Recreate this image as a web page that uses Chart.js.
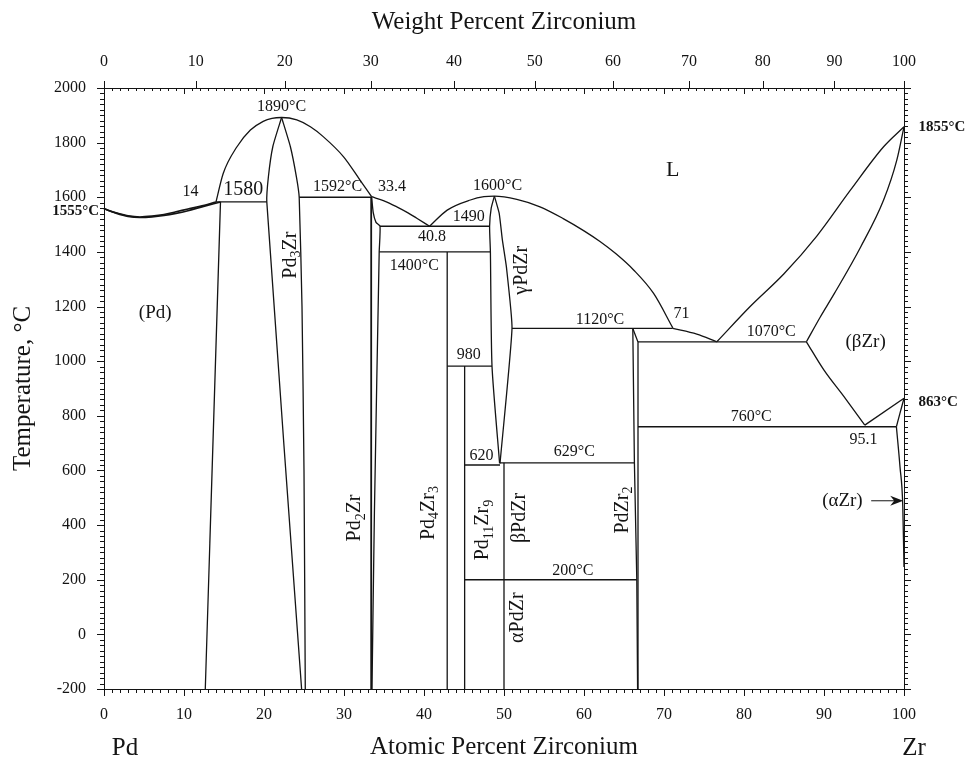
<!DOCTYPE html>
<html><head><meta charset="utf-8">
<script src="https://cdn.jsdelivr.net/npm/chart.js@4.4.1/dist/chart.umd.min.js"></script>
<style>html,body{margin:0;padding:0;background:#fff;overflow:hidden}#wrap{width:972px;height:760px}</style>
</head><body><div id="wrap"><canvas id="c" width="972" height="760"></canvas></div>
<script>
// ---------- tick labels ----------
const atomicTicks = [0,10,20,30,40,50,60,70,80,90,100];
const weightTicks = [0,10,20,30,40,50,60,70,80,90,100];
const tempTicks = [-200,0,200,400,600,800,1000,1200,1400,1600,1800,2000];
const M_PD = 106.42, M_ZR = 91.224;
function wtToAt(w){ if(w<=0) return 0; if(w>=100) return 100; const nz=w/M_ZR, np=(100-w)/M_PD; return 100*nz/(nz+np); }

// ---------- phase boundaries: [at.% Zr, °C] ----------
const pdLiquidus = [[0,1558],[1.5,1543],[3,1532],[4.5,1528],[6,1531],[7.5,1537],[9,1547],[10.5,1557],[12,1567],[14,1583]];
const pdSolidus  = [[0,1558],[1.5,1542],[3,1530],[4.5,1526],[6,1528],[7.5,1533],[9,1541],[10.5,1551],[12,1563],[14.56,1583]];
const pdSolvus   = [[14.56,1583],[12.66,-200]];
const eutectic1580 = [[14.0,1583],[20.35,1583]];
const liquidusDome = [[14.0,1583],[14.9,1687],[16.6,1784],[18.3,1846],[19.9,1878],[21.0,1889],[22.2,1892],[24.1,1883],[25.8,1858],[27.4,1822],[29.95,1748],[32.0,1663],[33.45,1602]];
const pd3ZrLeft  = [[22.2,1892],[21.1,1785],[20.55,1675],[20.35,1583],[24.7,-200]];
const pd3ZrRight = [[22.2,1892],[23.3,1785],[24.05,1675],[24.4,1600],[24.75,1200],[25.0,600],[25.16,-200]];
const peritectic1592 = [[24.4,1600],[33.45,1600]];
const pd2ZrLeft  = [[33.4,1602],[33.4,-200]];
const pd2ZrRight = [[33.45,1602],[33.65,1545],[34.0,1508],[34.5,1494],[34.4,1400],[33.8,444],[33.5,-200]];
const liquidus33to41 = [[33.45,1602],[35,1587],[36.6,1565],[38,1543],[39.1,1523],[40.7,1494]];
const eutectic1490 = [[34.5,1494],[48.2,1494]];
const liquidusGamma = [[40.7,1494],[42.9,1553],[45.8,1590],[47.5,1602],[48.8,1604],[51.6,1592],[54.5,1565],[57.4,1522],[60,1477],[62,1438],[64,1393],[66.2,1334],[68.7,1248],[71.1,1122]];
const gammaLeft  = [[48.8,1604],[48.4,1560],[48.2,1494],[48.3,1400],[48.5,982],[49.45,626]];
const gammaRight = [[48.8,1604],[49.4,1541],[49.8,1443],[50.3,1345],[51.0,1120],[49.5,626]];
const peritectoid1400 = [[34.4,1400],[48.3,1400]];
const pd4Zr3 = [[42.9,1400],[42.9,-200]];
const peritectoid980 = [[42.9,982],[48.5,982]];
const pd11Zr9 = [[45.08,982],[45.08,-200]];
const eutectoid620 = [[45.08,620],[49.5,620]];
const eutectoid629 = [[49.5,628],[66.3,628]];
const pdZr = [[50,628],[50,-200]];
const transition200 = [[45.08,200],[66.6,200]];
const peritectic1120 = [[51.0,1120],[71.1,1120]];
const pdZr2Left  = [[66.1,1120],[66.3,628],[66.6,200],[66.7,-200]];
const pdZr2Right = [[66.1,1120],[66.75,1070],[66.75,-200]];
const liquidus71to77 = [[71.1,1120],[74.1,1099],[76.6,1071]];
const eutectic1070 = [[66.75,1071],[87.8,1071]];
const betaLiquidus = [[76.6,1071],[80.8,1201],[85.0,1320],[89.1,1458],[93.3,1626],[97.45,1785],[100,1858]];
const betaSolidus  = [[87.8,1071],[89.5,1160],[91.3,1248],[94.6,1419],[97.45,1590],[99.1,1736],[100,1858]];
const betaSolvus   = [[87.8,1071],[90.0,967],[92.5,870],[95.1,766]];
const eutectoid760 = [[66.75,760],[99.05,760]];
const betaToAlpha  = [[95.1,766],[100,864]];
const alphaTransus = [[99.05,760],[99.5,810],[100,864]];
const alphaSolvus  = [[99.05,760],[99.5,613],[99.85,467],[100,247]];

// [curve, line width, smoothing: 0 straight, 'm' monotone cubic, number = bezier tension]
const boundaries = [
  [pdLiquidus,1.6,'m'],[pdSolidus,1.6,'m'],[pdSolvus,1.3,0],[eutectic1580,1.3,0],[liquidusDome,1.3,'m'],
  [pd3ZrLeft,1.3,0.2],[pd3ZrRight,1.3,0.15],[peritectic1592,1.3,0],[pd2ZrLeft,1.8,0],[pd2ZrRight,1.3,0.2],
  [liquidus33to41,1.3,'m'],[eutectic1490,1.3,0],[liquidusGamma,1.3,'m'],[gammaLeft,1.3,0.2],[gammaRight,1.3,0.15],
  [peritectoid1400,1.3,0],[pd4Zr3,1.3,0],[peritectoid980,1.3,0],[pd11Zr9,1.3,0],[eutectoid620,1.3,0],
  [eutectoid629,1.3,0],[pdZr,1.3,0],[transition200,1.3,0],[peritectic1120,1.3,0],[pdZr2Left,1.3,0],
  [pdZr2Right,1.3,0],[liquidus71to77,1.3,'m'],[eutectic1070,1.3,0],[betaLiquidus,1.3,'m'],[betaSolidus,1.3,'m'],
  [betaSolvus,1.3,'m'],[eutectoid760,1.3,0],[betaToAlpha,1.3,0],[alphaTransus,1.3,'m'],[alphaSolvus,1.3,'m']
];

// ---------- annotations: text, at.%, °C ----------
const plainLabels = [
  ['1890°C',22.2,1933,16],['14',10.8,1619,16],['1580',17.4,1627,20],['1592°C',29.2,1637,16],['33.4',36.0,1637,16],
  ['1600°C',49.2,1641,16],['1490',45.6,1527,16],['40.8',41.0,1455,16],['1400°C',38.8,1348,16],['L',71.1,1700,22],
  ['(Pd)',6.4,1176,19],['1120°C',62.0,1153,16],['71',72.2,1175,16],['1070°C',83.4,1108,16],['(βZr)',95.2,1071,19],
  ['980',45.6,1022,16],['760°C',80.9,797,16],['95.1',94.95,714,16],['620',47.2,652,16],['629°C',58.8,667,16],
  ['200°C',58.6,231,16],['(αZr)',92.3,489,19]
];
const boldLabels = [['1555°C',-0.6,1549,'right'],['1855°C',101.8,1857,'left'],['863°C',101.8,850,'left']];
const phaseLabels = [
  [[['Pd'],['3',1],['Zr']],23.3,1388],[[['γPdZr']],52.2,1333],[[['Pd'],['2',1],['Zr']],31.4,426],
  [[['Pd'],['4',1],['Zr'],['3',1]],40.6,444],[[['Pd'],['11',1],['Zr'],['9',1]],47.4,382],
  [[['βPdZr']],52.0,426],[[['PdZr'],['2',1]],64.8,455],[[['αPdZr']],51.7,61]
];
const arrowAlphaZr = [[95.9,489],[99.9,489]];

const SERIF = '"Liberation Serif","Times New Roman",serif';
const INK = '#141414';

const datasets = boundaries.map(([pts,w,s]) => ({
  data: pts.map(p => ({x:p[0], y:p[1]})),
  showLine: true, borderColor: INK, borderWidth: w, pointRadius: 0, fill: false, clip: 4,
  tension: s === 'm' ? 0.4 : s,
  cubicInterpolationMode: s === 'm' ? 'monotone' : 'default'
}));

const decor = {
  id: 'decor',
  afterDraw(chart){
    const ctx = chart.ctx, a = chart.chartArea, sx = chart.scales.x, sy = chart.scales.y, st = chart.scales.xTop;
    ctx.save();
    ctx.strokeStyle = INK; ctx.lineWidth = 1; ctx.beginPath();
    for (let v=0; v<=100; v++){
      const px = Math.round(sx.getPixelForValue(v))+0.5, major = v%10===0;
      ctx.moveTo(px,a.bottom); ctx.lineTo(px,a.bottom+(major?7:4));
      ctx.moveTo(px,a.top); ctx.lineTo(px,a.top+(major?6:3));
    }
    for (const w of weightTicks){ const px = Math.round(st.getPixelForValue(wtToAt(w)))+0.5; ctx.moveTo(px,a.top); ctx.lineTo(px,a.top-7); }
    for (let t=-200; t<=2000; t+=20){
      const py = Math.round(sy.getPixelForValue(t))+0.5, major = t%200===0;
      ctx.moveTo(a.left,py); ctx.lineTo(a.left-(major?7:4),py);
      ctx.moveTo(a.right,py); ctx.lineTo(a.right+(major?7:4),py);
    }
    ctx.stroke();
    // arrow
    const ax0 = sx.getPixelForValue(arrowAlphaZr[0][0]), ax1 = sx.getPixelForValue(arrowAlphaZr[1][0]), ay = sy.getPixelForValue(arrowAlphaZr[0][1]);
    ctx.beginPath(); ctx.moveTo(ax0,ay); ctx.lineTo(ax1-8,ay); ctx.stroke();
    ctx.fillStyle = INK; ctx.beginPath(); ctx.moveTo(ax1,ay); ctx.lineTo(ax1-13,ay-5); ctx.lineTo(ax1-9,ay); ctx.lineTo(ax1-13,ay+5); ctx.closePath(); ctx.fill();
    // labels
    ctx.textBaseline = 'middle'; ctx.textAlign = 'center';
    for (const [txt,x,t,size] of plainLabels){ ctx.font = size+'px '+SERIF; ctx.fillText(txt, sx.getPixelForValue(x), sy.getPixelForValue(t)); }
    ctx.font = 'bold 15px '+SERIF;
    for (const [txt,x,t,al] of boldLabels){ ctx.textAlign = al; ctx.fillText(txt, sx.getPixelForValue(x), sy.getPixelForValue(t)); }
    // rotated phase names with subscripts
    for (const [segs,x,t] of phaseLabels){
      const px = sx.getPixelForValue(x), py = sy.getPixelForValue(t);
      ctx.save(); ctx.translate(px,py); ctx.rotate(-Math.PI/2); ctx.textAlign='left';
      let total = 0;
      for (const s of segs){ ctx.font = (s[1]?14:20)+'px '+SERIF; total += ctx.measureText(s[0]).width; }
      let cx = -total/2;
      for (const s of segs){ ctx.font = (s[1]?14:20)+'px '+SERIF; ctx.fillText(s[0], cx, s[1]?6:0); cx += ctx.measureText(s[0]).width; }
      ctx.restore();
    }
    // element end labels
    ctx.font = '25px '+SERIF; ctx.textAlign='center';
    ctx.fillText('Pd', 125, 748); ctx.fillText('Zr', 914, 748);
    ctx.restore();
  }
};

const tickFont = {family: SERIF, size: 16};
new Chart(document.getElementById('c'), {
  type: 'scatter',
  data: { datasets },
  options: {
    responsive: false, animation: false, devicePixelRatio: 1,
    layout: {padding: 0},
    plugins: {legend: {display:false}, tooltip: {enabled:false}},
    scales: {
      x: { type:'linear', position:'bottom', min:0, max:100,
        afterBuildTicks: s => { s.ticks = atomicTicks.map(v=>({value:v})); },
        afterFit: s => { s.height = 71; },
        grid: {display:false, drawTicks:false, tickLength:0}, border: {display:true, color:INK, width:1},
        ticks: {font: tickFont, color: INK, padding: 16, maxRotation:0, autoSkip:false, callback: v => String(v)},
        title: {display:true, text:'Atomic Percent Zirconium', font:{family:SERIF, size:25, lineHeight:1}, color:INK, padding:{top:0,bottom:0}} },
      xTop: { type:'linear', position:'top', min:0, max:100,
        afterBuildTicks: s => { s.ticks = weightTicks.map(w=>({value: wtToAt(w)})); },
        afterFit: s => { s.height = 88; },
        grid: {display:false, drawTicks:false, tickLength:0}, border: {display:true, color:INK, width:1},
        ticks: {font: tickFont, color: INK, padding: 17, maxRotation:0, autoSkip:false, callback: (v,i) => String(weightTicks[i])},
        title: {display:true, text:'Weight Percent Zirconium', font:{family:SERIF, size:25, lineHeight:1}, color:INK, padding:{top:10,bottom:0}} },
      y: { type:'linear', position:'left', min:-200, max:2000,
        afterBuildTicks: s => { s.ticks = tempTicks.map(v=>({value:v})); },
        afterFit: s => { s.width = 104; },
        grid: {display:false, drawTicks:false, tickLength:0}, border: {display:true, color:INK, width:1},
        ticks: {font: tickFont, color: INK, padding: 18, autoSkip:false, callback: v => String(v)},
        title: {display:true, text:'Temperature, °C', font:{family:SERIF, size:25, lineHeight:1}, color:INK, padding:{top:11,bottom:0}} },
      yRight: { type:'linear', position:'right', min:-200, max:2000,
        afterFit: s => { s.width = 68; },
        grid: {display:false, drawTicks:false, tickLength:0}, border: {display:true, color:INK, width:1},
        ticks: {display:false} }
    }
  },
  plugins: [decor]
});
</script></body></html>
